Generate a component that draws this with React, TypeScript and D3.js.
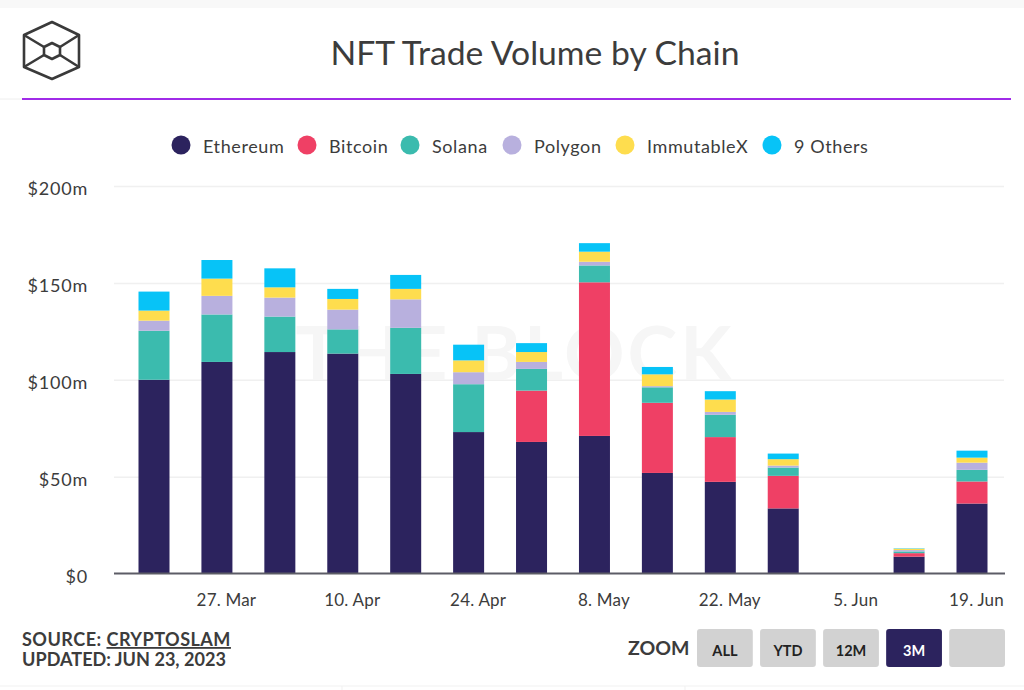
import React, { useEffect, useRef } from 'react';
import * as d3 from 'd3';

const weeks = ['2023-03-20', '2023-03-27', '2023-04-03', '2023-04-10', '2023-04-17', '2023-04-24', '2023-05-01', '2023-05-08', '2023-05-15', '2023-05-22', '2023-05-29', '2023-06-05', '2023-06-12', '2023-06-19'];
const tickDates = ['2023-03-27', '2023-04-10', '2023-04-24', '2023-05-08', '2023-05-22', '2023-06-05', '2023-06-19'];
const tickLabels = ['27. Mar', '10. Apr', '24. Apr', '8. May', '22. May', '5. Jun', '19. Jun'];
const yTicks = [0, 50, 100, 150, 200];

const ethereum = [100, 109.2, 114.3, 113.5, 103, 73, 67.9, 71, 51.9, 47.3, 33.6, 0, 8.7, 36.1];
const bitcoin = [0, 0, 0, 0, 0, 0, 26.5, 79.3, 36.2, 23.1, 16.8, 0, 1.8, 11.4];
const solana = [25.3, 24.5, 18.3, 12.5, 23.8, 24.7, 11.2, 8.7, 8, 11.5, 4.3, 0, 0.9, 6];
const polygon = [5.2, 9.6, 9.8, 10.2, 14.7, 6.2, 3.6, 1.9, 0.6, 1.5, 1, 0, 0.7, 3.7];
const immutableX = [5.2, 8.9, 5.3, 5.5, 5.4, 6.1, 5.1, 5.2, 6.1, 6.4, 3.3, 0, 0.7, 2.6];
const others = [9.8, 9.6, 9.8, 5.2, 7.2, 8.1, 4.6, 4.4, 3.8, 4.3, 2.9, 0, 0.2, 3.6];

const seriesNames = ['Ethereum', 'Bitcoin', 'Solana', 'Polygon', 'ImmutableX', '9 Others'];
const seriesColors = ['#2c235e', '#ef4065', '#3bbbae', '#b8b0de', '#fedd4e', '#07c3f7'];
const seriesValues = [ethereum, bitcoin, solana, polygon, immutableX, others];
const legendX = [181, 307, 410, 512, 625, 772];

const zoomLabels = ['ALL', 'YTD', '12M', '3M', ''];

const App: React.FC = () => {
  const svgRef = useRef<SVGSVGElement>(null);

  useEffect(() => {
    if (!svgRef.current) return;
    const svg = d3.select(svgRef.current);
    svg.selectAll('*').remove();

    const font = 'Lato, sans-serif';
    const textColor = '#3c3c3c';

    // Page bands
    svg.append('rect').attr('width', 1024).attr('height', 690).attr('fill', '#fff');
    svg.append('rect').attr('width', 1024).attr('height', 8).attr('fill', '#f8f8f8');
    svg.append('line').attr('x1', 0).attr('x2', 1024).attr('y1', 686).attr('y2', 686).attr('stroke', '#f1f1f1');
    [342, 685].forEach(x => {
      svg.append('line').attr('x1', x).attr('x2', x).attr('y1', 686).attr('y2', 690).attr('stroke', '#f1f1f1');
    });

    // Logo
    const logo = svg.append('g').attr('fill', 'none').attr('stroke', '#3a3a3a').attr('stroke-width', 2.6).attr('stroke-linejoin', 'round');
    logo.append('path').attr('d', 'M52 22 L79 35 L79 67 L52 79 L24 67 L24 35 Z');
    logo.append('path').attr('d', 'M52 43 L60 47 L60 55 L52 59 L44 55 L44 47 Z');
    logo.append('path').attr('d', 'M24 35 L44 47 M79 35 L60 47 M24 67 L44 55 M79 67 L60 55');

    // Title and rule
    svg.append('text').attr('x', 535).attr('y', 65).attr('text-anchor', 'middle')
      .attr('font-family', font).attr('font-size', 33.7).attr('fill', textColor).text('NFT Trade Volume by Chain');
    svg.append('line').attr('x1', 0).attr('x2', 22).attr('y1', 99).attr('y2', 99).attr('stroke', '#eeeeee');
    svg.append('line').attr('x1', 22).attr('x2', 1011).attr('y1', 99).attr('y2', 99).attr('stroke', '#a02be8').attr('stroke-width', 1.8);

    // Legend
    seriesNames.forEach((name, i) => {
      svg.append('circle').attr('cx', legendX[i]).attr('cy', 145).attr('r', 9.5).attr('fill', seriesColors[i]);
      svg.append('text').attr('x', legendX[i] + 22).attr('y', 153).attr('font-family', font)
        .attr('font-size', 18).attr('letter-spacing', 0.6).attr('fill', textColor).text(name);
    });

    // Scales
    const parse = d3.utcParse('%Y-%m-%d');
    const dates = weeks.map(d => parse(d) as Date);
    const x = d3.scaleUtc().domain([dates[0], dates[dates.length - 1]]).range([154, 972]);
    const y = d3.scaleLinear().domain([0, 200]).range([573.5, 186]);
    const barWidth = 31;

    // Grid
    const grid = svg.append('g').attr('transform', 'translate(114,0)')
      .call(d3.axisLeft(y).tickValues(yTicks).tickSize(-890).tickFormat(() => ''));
    grid.select('.domain').remove();
    grid.selectAll('line').attr('stroke', '#f0f0f0').attr('stroke-width', 1.5);
    grid.selectAll('.tick').filter(d => d === 0).remove();

    // Y labels
    const yAxis = svg.append('g').attr('transform', 'translate(88,3)')
      .call(d3.axisLeft(y).tickValues(yTicks).tickSize(0).tickPadding(0).tickFormat(d => (d === 0 ? '$0' : `$${d}m`)));
    yAxis.select('.domain').remove();
    yAxis.selectAll('text').attr('font-family', font).attr('font-size', 18).attr('letter-spacing', 0.8).attr('fill', textColor);

    // Watermark
    svg.append('text').attr('x', 515).attr('y', 380).attr('text-anchor', 'middle').attr('font-family', font)
      .attr('font-weight', 700).attr('font-size', 75).attr('letter-spacing', 3).attr('fill', '#f6f6f6').text('THE BLOCK');

    // Stacked bars
    const rows = dates.map((date, i) => {
      const row: Record<string, number | Date> = { date };
      seriesNames.forEach((name, s) => { row[name] = seriesValues[s][i]; });
      return row;
    });
    const stacked = d3.stack<Record<string, number | Date>>().keys(seriesNames)(rows as any);
    svg.append('g').selectAll('g').data(stacked).join('g')
      .attr('fill', (_, i) => seriesColors[i])
      .selectAll('rect').data(d => d).join('rect')
      .attr('x', d => x(d.data.date as Date) - barWidth / 2)
      .attr('width', barWidth)
      .attr('y', d => y(d[1]))
      .attr('height', d => y(d[0]) - y(d[1]));

    // X axis
    const xAxis = svg.append('g').attr('transform', 'translate(0,573.5)')
      .call(d3.axisBottom(x).tickValues(tickDates.map(d => parse(d) as Date)).tickSize(0).tickPadding(0)
        .tickFormat((_, i) => tickLabels[i]));
    xAxis.select('.domain').remove();
    xAxis.selectAll('text').attr('font-family', font).attr('font-size', 17).attr('letter-spacing', 0.2)
      .attr('fill', textColor).attr('dx', (_, i) => (i === tickLabels.length - 1 ? 4 : 9)).attr('dy', 32);
    svg.append('line').attr('x1', 114).attr('x2', 1005).attr('y1', 573.5).attr('y2', 573.5).attr('stroke', '#5c5c66').attr('stroke-width', 2);

    // Source
    const src = svg.append('text').attr('x', 22).attr('y', 646).attr('font-family', font).attr('font-weight', 700)
      .attr('font-size', 18.1).attr('letter-spacing', 0.45).attr('fill', textColor);
    src.append('tspan').text('SOURCE: ');
    src.append('tspan').attr('text-decoration', 'underline').text('CRYPTOSLAM');
    svg.append('text').attr('x', 22).attr('y', 666).attr('font-family', font).attr('font-weight', 700)
      .attr('font-size', 18.1).attr('fill', textColor).text('UPDATED: JUN 23, 2023');

    // Zoom buttons
    svg.append('text').attr('x', 628).attr('y', 655).attr('font-family', font).attr('font-weight', 700)
      .attr('font-size', 19.5).attr('fill', textColor).text('ZOOM');
    const button = d3.scaleBand<number>().domain(d3.range(zoomLabels.length)).range([697, 1005]).paddingInner(0.115);
    zoomLabels.forEach((label, i) => {
      const active = label === '3M';
      svg.append('rect').attr('x', button(i) as number).attr('y', 629).attr('width', button.bandwidth()).attr('height', 38)
        .attr('rx', 3).attr('fill', active ? '#2c235e' : '#d2d2d2');
      svg.append('text').attr('x', (button(i) as number) + button.bandwidth() / 2).attr('y', 656).attr('text-anchor', 'middle')
        .attr('font-family', font).attr('font-weight', 700).attr('font-size', 14.5).attr('fill', active ? '#fff' : '#222').text(label);
    });
  }, []);

  return <svg ref={svgRef} width={1024} height={690} style={{ position: 'absolute', left: 0, top: 0 }} />;
};

export default App;
